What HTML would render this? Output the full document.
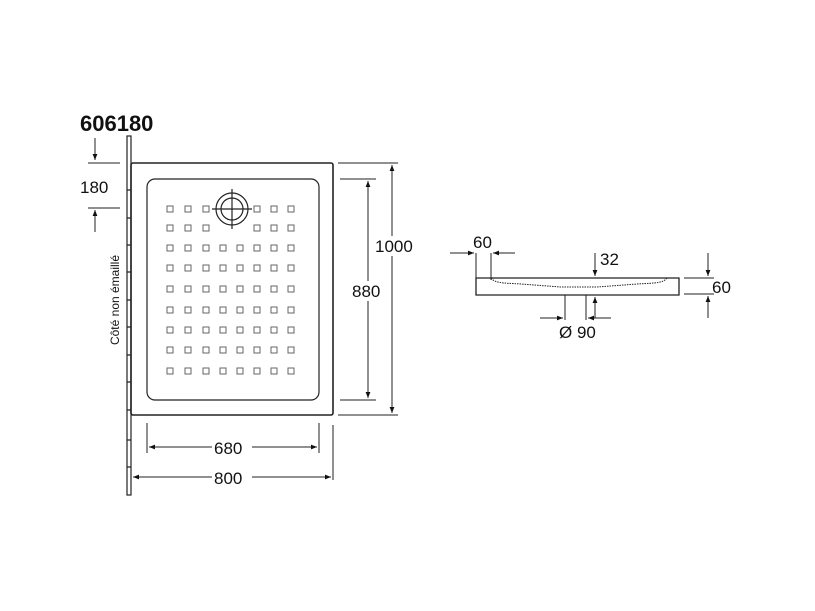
<!DOCTYPE html>
<html><head><style>
body{margin:0;background:#fff}
svg{display:block;font-family:"Liberation Sans",sans-serif}
</style></head><body>
<svg width="815" height="611" viewBox="0 0 815 611" xmlns="http://www.w3.org/2000/svg">
<defs>
<marker id="a" viewBox="0 0 10 10" refX="10" refY="5" markerWidth="9" markerHeight="6" orient="auto-start-reverse" markerUnits="userSpaceOnUse"><path d="M0,1 L10,5 L0,9z" fill="#111"/></marker>
<g id="r">
<rect x="167" y="-3" width="6" height="6"/><rect x="185" y="-3" width="6" height="6"/><rect x="203" y="-3" width="6" height="6"/><rect x="220" y="-3" width="6" height="6"/><rect x="237" y="-3" width="6" height="6"/><rect x="254" y="-3" width="6" height="6"/><rect x="271" y="-3" width="6" height="6"/><rect x="288" y="-3" width="6" height="6"/>
</g>
</defs>
<text x="80" y="131" font-size="22" font-weight="bold" fill="#111">606180</text>
<g stroke="#222" fill="none" stroke-width="1.2">
<rect x="127" y="136" width="4" height="359"/>
<path d="M127 190h4M127 218h4M127 245h4M127 272h4M127 300h4M127 327h4M127 355h4M127 382h4M127 410h4M127 440h4M127 467h4"/>
<rect x="131" y="163" width="202" height="252" rx="2" stroke-width="1.6"/>
<rect x="147" y="179" width="172" height="221" rx="8"/>
<circle cx="232" cy="209" r="16"/><circle cx="232" cy="209" r="11"/>
<path d="M212 209h40M232 189v40"/>
</g>
<g stroke="#666" fill="none" stroke-width="1">
<g transform="translate(0,209)"><rect x="167" y="-3" width="6" height="6"/><rect x="185" y="-3" width="6" height="6"/><rect x="203" y="-3" width="6" height="6"/><rect x="254" y="-3" width="6" height="6"/><rect x="271" y="-3" width="6" height="6"/><rect x="288" y="-3" width="6" height="6"/></g>
<g transform="translate(0,228)"><rect x="167" y="-3" width="6" height="6"/><rect x="185" y="-3" width="6" height="6"/><rect x="203" y="-3" width="6" height="6"/><rect x="254" y="-3" width="6" height="6"/><rect x="271" y="-3" width="6" height="6"/><rect x="288" y="-3" width="6" height="6"/></g>
<use href="#r" y="248"/><use href="#r" y="268"/><use href="#r" y="289"/><use href="#r" y="310"/><use href="#r" y="330"/><use href="#r" y="350"/><use href="#r" y="371"/>
</g>
<g stroke="#222" fill="none" stroke-width="1">
<path d="M95 138v22" marker-end="url(#a)"/><path d="M88 163h32M88 208h32"/><path d="M95 232v-22" marker-end="url(#a)"/>
<path d="M338 163h60M338 415h60M340 179h36M340 400h36"/>
<path d="M392 165v248" marker-start="url(#a)" marker-end="url(#a)"/>
<path d="M368 181v217" marker-start="url(#a)" marker-end="url(#a)"/>
<path d="M147 423v30M319 423v30M131 470v25M333 425v55"/>
<path d="M149 447h168" marker-start="url(#a)" marker-end="url(#a)"/>
<path d="M133 477h198" marker-start="url(#a)" marker-end="url(#a)"/>
<path d="M476 278h203v17h-203z" stroke-width="1.3"/>
<path d="M491 278c4 5 10 5 30 6l40 3h36l40-3c20-1 26-1 30-6" stroke-dasharray="1.5 1"/>
<path d="M476 253v27M491 253v27"/>
<path d="M450 253h24" marker-end="url(#a)"/><path d="M515 253h-22" marker-end="url(#a)"/>
<path d="M595 253v23" marker-end="url(#a)"/><path d="M595 318v-21" marker-end="url(#a)"/>
<path d="M565 295v25M586 295v25"/>
<path d="M540 318h23" marker-end="url(#a)"/><path d="M611 318h-23" marker-end="url(#a)"/>
<path d="M684 278h30M684 294h30"/>
<path d="M708 253v23" marker-end="url(#a)"/><path d="M708 318v-22" marker-end="url(#a)"/>
</g>
<g font-size="17" fill="#111">
<text x="80" y="193">180</text>
<rect x="373" y="236" width="42" height="20" fill="#fff"/><text x="375" y="252">1000</text>
<rect x="350" y="281" width="34" height="20" fill="#fff"/><text x="352" y="297">880</text>
<rect x="212" y="438" width="40" height="20" fill="#fff"/><text x="214" y="454">680</text>
<rect x="212" y="468" width="40" height="20" fill="#fff"/><text x="214" y="484">800</text>
<text x="473" y="248">60</text>
<text x="600" y="265">32</text>
<text x="712" y="293">60</text>
<text x="559" y="338">Ø 90</text>
</g>
<text transform="translate(119,300) rotate(-90)" text-anchor="middle" font-size="12" fill="#111">Côté non émaillé</text>
</svg>
</body></html>
